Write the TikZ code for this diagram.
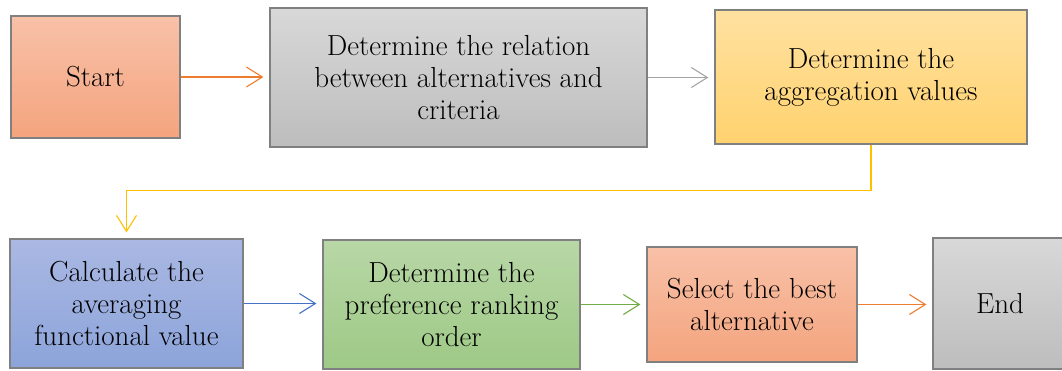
\documentclass[tikz,border=0pt]{standalone}
\usepackage{fontspec}
\usepackage{tikz}
\usetikzlibrary{arrows.meta, positioning}
\definecolor{boxBorder}{gray}{0.5}
\definecolor{salmonTop}{RGB}{248,193,168}
\definecolor{salmonBot}{RGB}{244,164,126}
\definecolor{grayTop}{RGB}{216,216,216}
\definecolor{grayBot}{RGB}{189,189,189}
\definecolor{yellowTop}{RGB}{255,225,160}
\definecolor{yellowBot}{RGB}{255,210,110}
\definecolor{blueTop}{RGB}{170,184,227}
\definecolor{blueBot}{RGB}{140,164,218}
\definecolor{greenTop}{RGB}{184,215,166}
\definecolor{greenBot}{RGB}{158,201,134}
\definecolor{orangeLine}{RGB}{237,125,49}
\definecolor{grayLine}{RGB}{165,165,165}
\definecolor{yellowLine}{RGB}{255,192,0}
\definecolor{blueLine}{RGB}{68,114,196}
\definecolor{greenLine}{RGB}{112,173,71}

\begin{document}
\begin{tikzpicture}[x=1pt, y=-1pt, >={Straight Barb[length=16pt, width=20pt]},
    stepbox/.style={draw=boxBorder, line width=1.2pt, inner sep=0pt, align=center,
        font=\fontsize{29}{32}\selectfont},
    link/.style={->, line width=1.1pt, shorten >=6pt}]
    \useasboundingbox (0,0) rectangle (1062,370);

    % first row
    \node[stepbox, top color=salmonTop, bottom color=salmonBot,
        minimum width=169pt, minimum height=122pt] (start) at (95.5,77) {Start};
    \node[stepbox, top color=grayTop, bottom color=grayBot,
        minimum width=377pt, minimum height=139pt] (relation) at (458.5,77.5)
        {Determine the relation\\between alternatives and\\criteria};
    \node[stepbox, top color=yellowTop, bottom color=yellowBot,
        minimum width=312pt, minimum height=134pt] (aggregation) at (871,77)
        {Determine the\\aggregation values};

    % second row
    \node[stepbox, top color=blueTop, bottom color=blueBot,
        minimum width=233pt, minimum height=129pt] (averaging) at (126.5,303.5)
        {Calculate the\\averaging\\functional value};
    \node[stepbox, top color=greenTop, bottom color=greenBot,
        minimum width=257pt, minimum height=129pt] (ranking) at (451.5,304.5)
        {Determine the\\preference ranking\\order};
    \node[stepbox, top color=salmonTop, bottom color=salmonBot,
        minimum width=210pt, minimum height=115pt] (best) at (752,304.5)
        {Select the best\\alternative};
    \node[stepbox, top color=grayTop, bottom color=grayBot,
        minimum width=134pt, minimum height=131pt] (finish) at (1000,303.5) {End};

    % connectors
    \draw[link, orangeLine] (start.east) -- (start.east -| relation.west);
    \draw[link, grayLine] (relation.east) -- (relation.east -| aggregation.west);
    \draw[link, yellowLine] (aggregation.south) -- ++(0,46) -| (averaging.north);
    \draw[link, blueLine] (averaging.east) -- (averaging.east -| ranking.west);
    \draw[link, greenLine] (ranking.east) -- (ranking.east -| best.west);
    \draw[link, orangeLine] (best.east) -- (best.east -| finish.west);
\end{tikzpicture}
\end{document}
